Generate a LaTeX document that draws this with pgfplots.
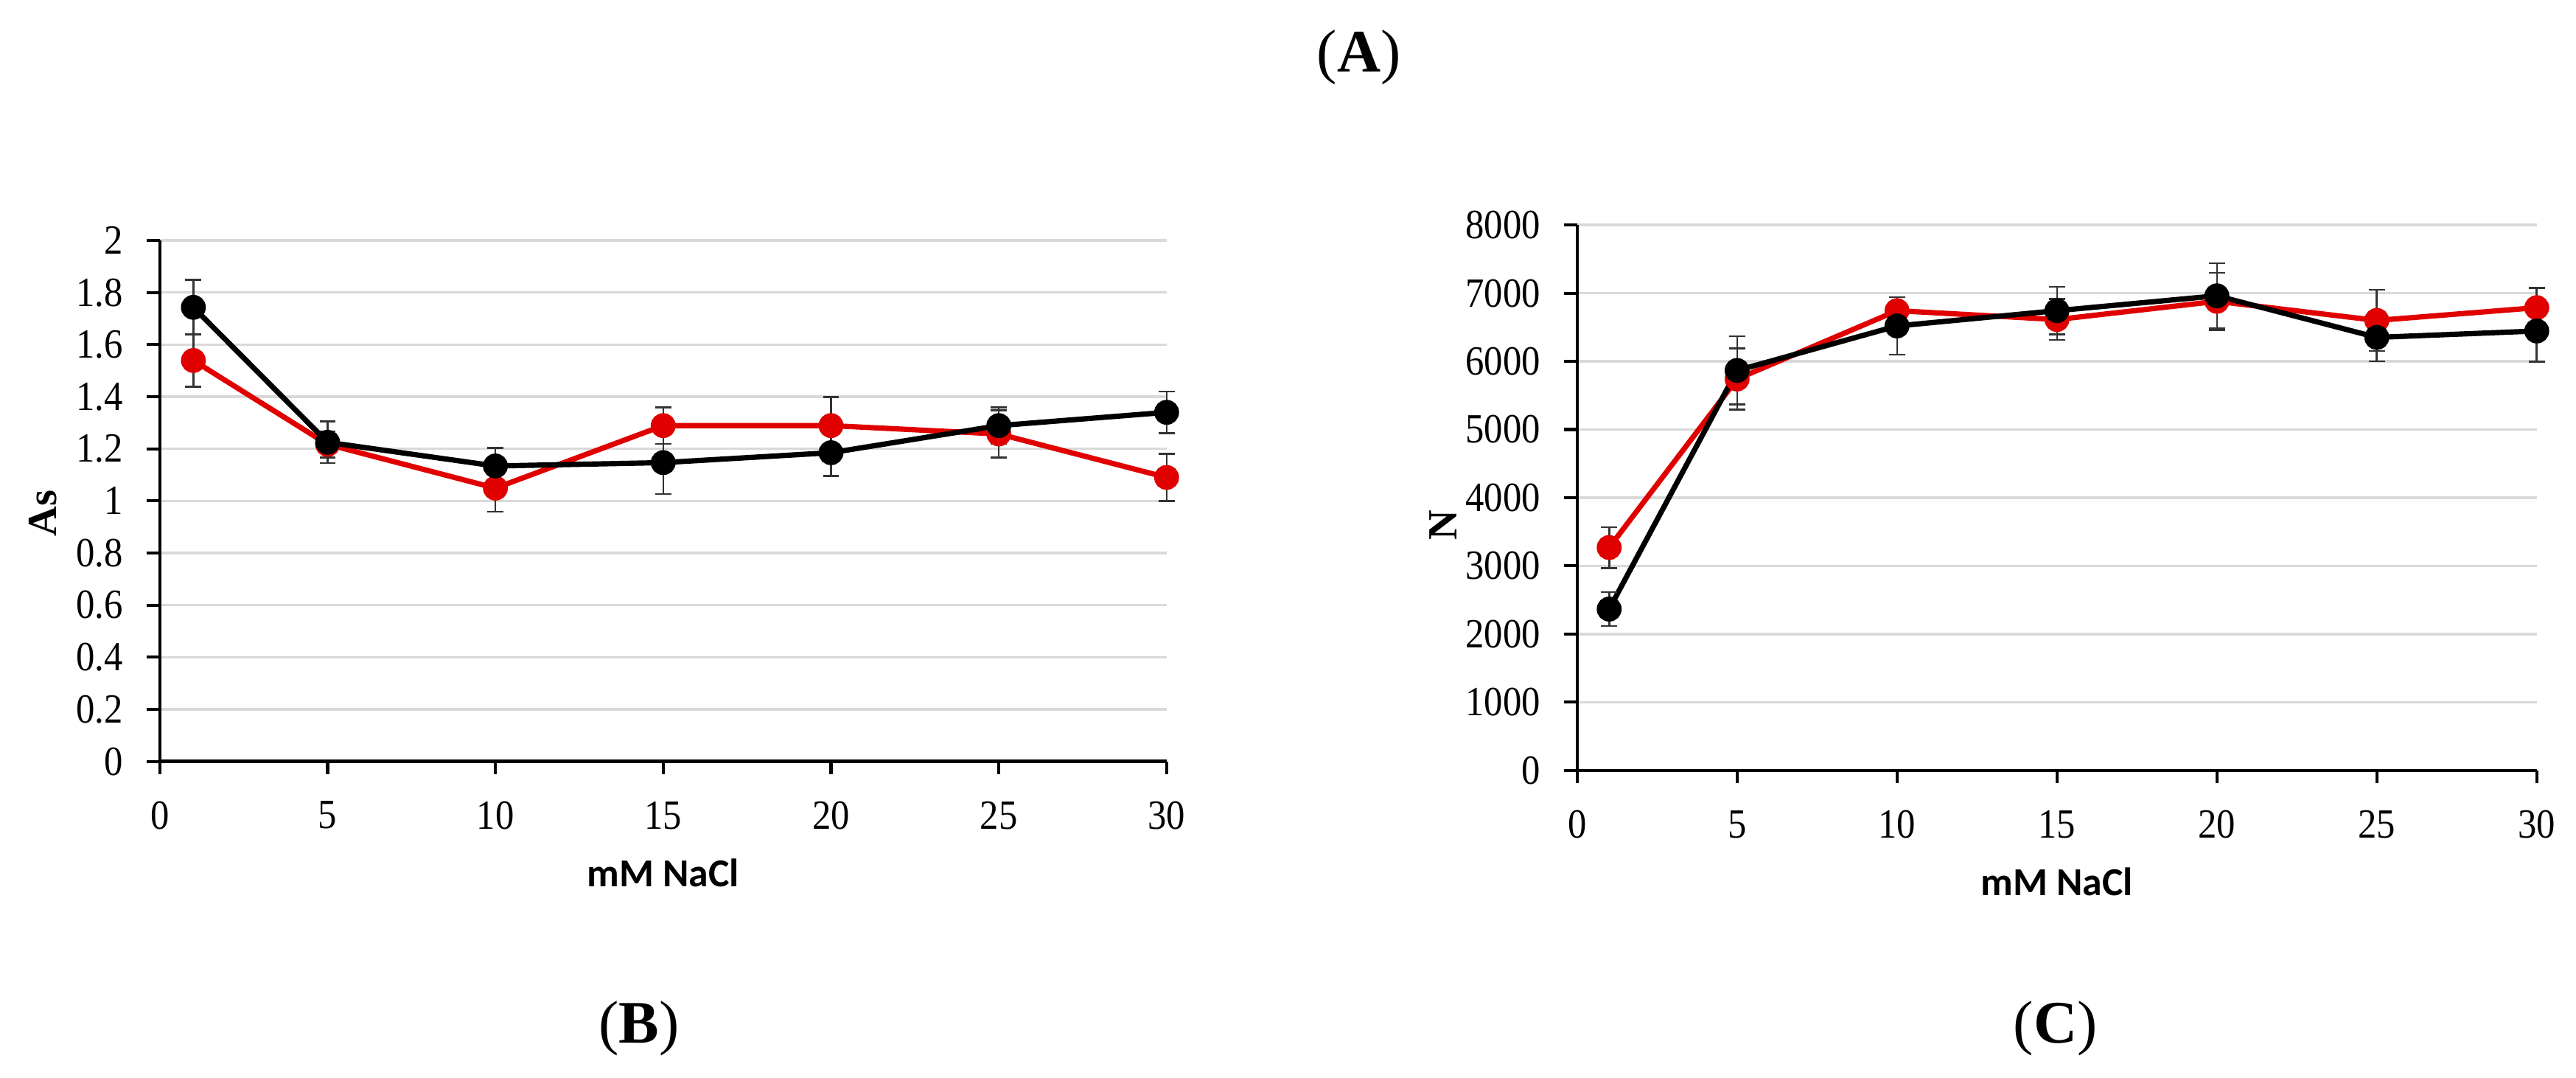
\documentclass[border=0pt]{standalone}
\usepackage{fontspec}
\setmainfont{Liberation Serif}
\newfontfamily\tickfont[FakeStretch=0.9]{Liberation Serif}
\newfontfamily\calibri{Carlito}
\usepackage{pgfplots}
\pgfplotsset{compat=1.18}
\definecolor{redS}{RGB}{224,0,0}
\definecolor{gridG}{RGB}{217,217,217}

% As vs NaCl
\pgfplotstableread{
x  y      e
1  1.539  0.10
5  1.217  0.05
10 1.049  0.09
15 1.289  0.07
20 1.289  0.11
25 1.257  0.09
30 1.090  0.09
}\asRed
\pgfplotstableread{
x  y      e
1  1.743  0.105
5  1.225  0.08
10 1.134  0.07
15 1.147  0.12
20 1.185  0.09
25 1.289  0.07
30 1.340  0.08
}\asBlack
% N vs NaCl
\pgfplotstableread{
x  y     e
1  3269  300
5  5741  450
10 6743  200
15 6613  300
20 6880  420
25 6600  450
30 6787  290
}\nRed
\pgfplotstableread{
x  y     e
1  2366  250
5  5866  500
10 6519  420
15 6743  350
20 6961  480
25 6351  350
30 6445  450
}\nBlack

\pgfplotsset{
  panel/.style={
    scale only axis,
    axis x line=bottom, axis y line=left,
    axis line style={-, black, line width=0.9pt},
    tick align=outside,
    major tick length=0.12cm,
    tick style={black, line width=0.8pt},
    xmin=0, xmax=30, xtick={0,5,...,30},
    ymajorgrids=true, grid style={gridG, line width=0.7pt},
    ticklabel style={font=\tickfont\fontsize{11}{13}\selectfont},
    xticklabel style={yshift=-0.13cm},
    yticklabel style={xshift=-0.1cm},
    /pgf/number format/assume math mode=true,
    xlabel={\calibri\bfseries mM NaCl},
    xlabel style={font=\fontsize{10.5}{12}\selectfont,
      at={(axis description cs:0.5,0)}, anchor=center, yshift=-1.04cm},
    ylabel style={font=\fontsize{11}{13}\selectfont\bfseries},
    clip=false,
  },
  ser/.style={
    color=#1, line width=1.4pt, mark=*, mark size=2.6pt,
    mark options={solid, fill=#1, draw=#1},
    error bars/.cd, y dir=both, y explicit,
    error bar style={black!80, line width=0.5pt},
    error mark options={rotate=90, mark size=0.075cm, line width=0.5pt, black!80},
  },
}

\begin{document}
\begin{tikzpicture}
\path[use as bounding box] (0,0) rectangle (24,10.037);

\begin{axis}[panel,
  at={(1.489cm,2.946cm)}, anchor=south west,
  width=9.38cm, height=4.852cm,
  ymin=0, ymax=2, ytick={0,0.2,...,2.01},
  yticklabel style={/pgf/number format/.cd, fixed, precision=1},
  ylabel={As},
  ylabel style={at={(axis description cs:0,0.476)}, anchor=center, yshift=1.09cm},
]
\addplot+[ser=redS] table[x=x, y=y, y error=e] {\asRed};
\addplot+[ser=black] table[x=x, y=y, y error=e] {\asBlack};
\end{axis}

\begin{axis}[panel,
  at={(14.694cm,2.862cm)}, anchor=south west,
  width=8.94cm, height=5.08cm,
  ymin=0, ymax=8000, ytick={0,1000,...,8000},
  yticklabel style={/pgf/number format/.cd, fixed, 1000 sep={}},
  scaled y ticks=false,
  ylabel={N},
  ylabel style={at={(axis description cs:0,0.45)}, anchor=center, yshift=1.25cm},
]
\addplot+[ser=redS] table[x=x, y=y, y error=e] {\nRed};
\addplot+[ser=black] table[x=x, y=y, y error=e] {\nBlack};
\end{axis}

\node[font=\fontsize{16}{18}\selectfont] at (12.66,9.505) {(\textbf{A})};
\node[font=\fontsize{16}{18}\selectfont] at (5.954,0.459) {(\textbf{B})};
\node[font=\fontsize{16}{18}\selectfont] at (19.15,0.459) {(\textbf{C})};
\end{tikzpicture}
\end{document}
